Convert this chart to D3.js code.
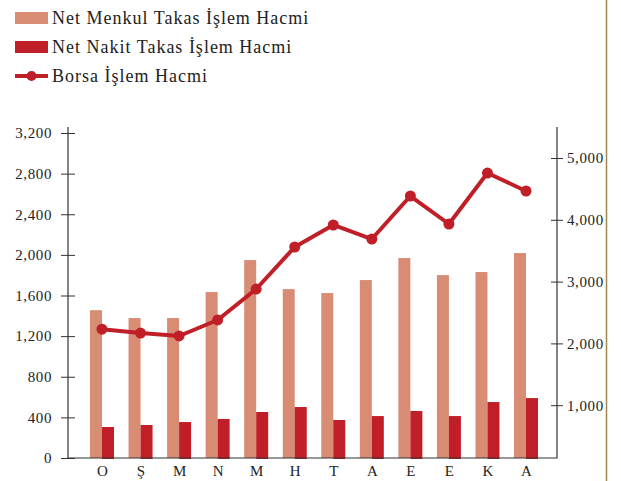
<!DOCTYPE html>
<html>
<head>
<meta charset="utf-8">
<script src="https://cdn.jsdelivr.net/npm/d3@7"></script>
<style>
  body { margin: 0; background: #fff; }
  svg text { font-family: "Liberation Serif", "DejaVu Serif", serif; fill: #222; }
</style>
</head>
<body>
<div id="chart"></div>
<script>
// data
let months = ["O", "Ş", "M", "N", "M", "H", "T", "A", "E", "E", "K", "A"];
let menkul = [1455, 1378, 1378, 1634, 1949, 1663, 1624, 1752, 1969, 1801, 1831, 2018];
let nakit  = [305, 325, 354, 384, 453, 502, 374, 413, 463, 413, 551, 590];
let borsa  = [2230, 2168, 2120, 2379, 2880, 3560, 3916, 3689, 4385, 3932, 4757, 4466];
let leftTicks  = [0, 400, 800, 1200, 1600, 2000, 2400, 2800, 3200];
let rightTicks = [1000, 2000, 3000, 4000, 5000];

let LIGHT = "#d98c74";
let DARK = "#c01f27";
let BAR_W = 12;

let svg = d3.select("#chart").append("svg").attr("width", 621).attr("height", 481);

let xScale = d3.scalePoint().domain(d3.range(months.length)).range([102, 526]);
let yLeft  = d3.scaleLinear().domain([0, 3200]).range([458, 133]);
let yRight = d3.scaleLinear().domain([0, 5000]).range([467, 158]);

// gold rule on the right
svg.append("line").attr("x1", 606.5).attr("x2", 606.5).attr("y1", 0).attr("y2", 481)
   .attr("stroke", "#a5854a").attr("stroke-width", 1.5);

// bars
svg.selectAll("rect.menkul").data(menkul).enter().append("rect")
   .attr("class", "menkul")
   .attr("x", function(d, i) { return xScale(i) - BAR_W; })
   .attr("y", function(d) { return yLeft(d); })
   .attr("width", BAR_W)
   .attr("height", function(d) { return yLeft(0) - yLeft(d); })
   .attr("fill", LIGHT);

svg.selectAll("rect.nakit").data(nakit).enter().append("rect")
   .attr("class", "nakit")
   .attr("x", function(d, i) { return xScale(i); })
   .attr("y", function(d) { return yLeft(d); })
   .attr("width", BAR_W)
   .attr("height", function(d) { return yLeft(0) - yLeft(d) + 1; })
   .attr("fill", DARK);

// axes
let leftAxis = d3.axisLeft(yLeft).tickValues(leftTicks).tickSize(7).tickSizeOuter(0)
                 .tickFormat(d3.format(","));
let gl = svg.append("g").attr("transform", "translate(68,0)").call(leftAxis);
gl.select(".domain").remove();
gl.selectAll(".tick line").attr("x2", -7).attr("x1", 7).attr("stroke", "#333");
gl.selectAll(".tick text").attr("x", -16).style("font-size", "15px").style("letter-spacing", "0.6px");

let rightAxis = d3.axisRight(yRight).tickValues(rightTicks).tickSize(6).tickSizeOuter(0)
                  .tickFormat(d3.format(","));
let gr = svg.append("g").attr("transform", "translate(557,0)").call(rightAxis);
gr.select(".domain").remove();
gr.selectAll(".tick line").attr("x1", -6).attr("x2", 6).attr("stroke", "#333");
gr.selectAll(".tick text").attr("x", 10).style("font-size", "15px").style("letter-spacing", "0.6px");

svg.append("path")
   .attr("d", "M68,127V458H557V127")
   .attr("fill", "none").attr("stroke", "#333").attr("stroke-width", 1.2);

let bottomAxis = d3.axisBottom(xScale).tickSize(0).tickFormat(function(i) { return months[i]; });
let gb = svg.append("g").attr("transform", "translate(0,458)").call(bottomAxis);
gb.select(".domain").remove();
gb.selectAll(".tick text").attr("dy", "0").attr("y", 18).style("font-size", "15px");

// line series
let line = d3.line().x(function(d, i) { return xScale(i); }).y(function(d) { return yRight(d); });
svg.append("path").datum(borsa).attr("d", line)
   .attr("fill", "none").attr("stroke", DARK).attr("stroke-width", 4).attr("stroke-linejoin", "round");
svg.selectAll("circle.pt").data(borsa).enter().append("circle")
   .attr("class", "pt")
   .attr("cx", function(d, i) { return xScale(i); })
   .attr("cy", function(d) { return yRight(d); })
   .attr("r", 5.5).attr("fill", DARK);

// legend
let legend = [
  { text: "Net Menkul Takas İşlem Hacmi", type: "bar", color: LIGHT },
  { text: "Net Nakit Takas İşlem Hacmi", type: "bar", color: DARK },
  { text: "Borsa İşlem Hacmi", type: "line", color: DARK }
];
let lg = svg.selectAll("g.leg").data(legend).enter().append("g")
            .attr("transform", function(d, i) { return "translate(15," + (18 + i * 29) + ")"; });
lg.filter(function(d) { return d.type == "bar"; }).append("rect")
  .attr("x", 0).attr("y", -6).attr("width", 33).attr("height", 12).attr("fill", function(d) { return d.color; });
lg.filter(function(d) { return d.type == "line"; }).append("line")
  .attr("x1", 0).attr("x2", 33).attr("y1", 0).attr("y2", 0).attr("stroke", DARK).attr("stroke-width", 4);
lg.filter(function(d) { return d.type == "line"; }).append("circle")
  .attr("cx", 16.5).attr("cy", 0).attr("r", 5).attr("fill", DARK);
lg.append("text").attr("x", 37).attr("y", 6).style("font-size", "18px").style("letter-spacing", "1px")
  .text(function(d) { return d.text; });
</script>
</body>
</html>
